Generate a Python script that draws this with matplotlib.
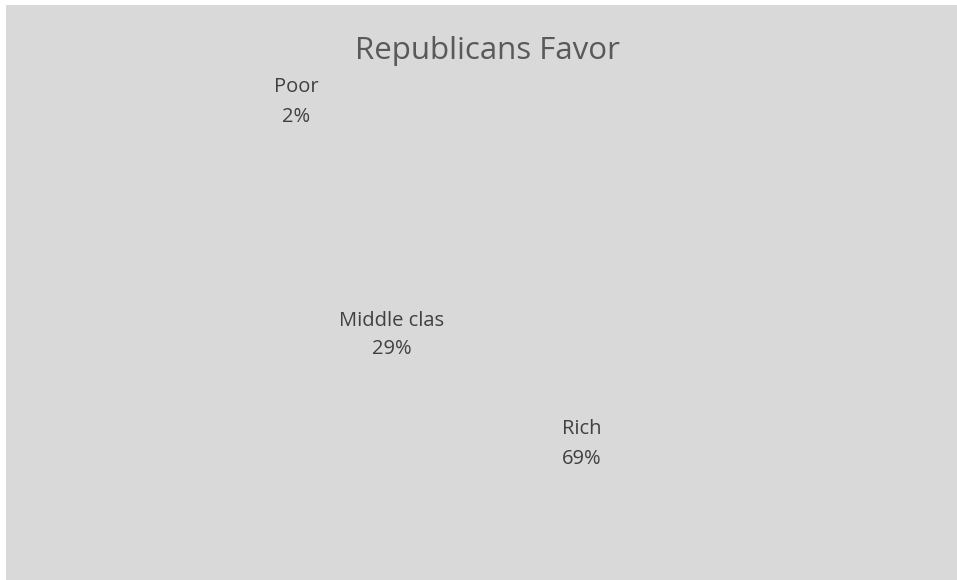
import matplotlib
matplotlib.use("Agg")
import matplotlib.pyplot as plt
from matplotlib.patches import Rectangle

plt.rcParams['font.family'] = ['Open Sans', 'DejaVu Sans']

# share of each income group
groups = ["Poor", "Middle clas", "Rich"]
shares = [2, 29, 69]

# where each data label sits (figure fraction, centre of the two-line block)
label_pos = [(296 / 957, 1 - 102 / 580),
             (392 / 957, 1 - 335 / 580),
             (582 / 957, 1 - 444 / 580)]

fig = plt.figure(figsize=(9.57, 5.8), dpi=100)
fig.patch.set_facecolor("white")
fig.patches.append(Rectangle((6 / 957, 0), 1, 1 - 5 / 580, transform=fig.transFigure,
                             facecolor="#d9d9d9", edgecolor="none", zorder=-1))

ax = fig.add_axes([0.25, 0.05, 0.5, 0.78])
# slices have no fill, only the labels show
ax.pie(shares, startangle=90, counterclock=False,
       wedgeprops=dict(fill=False, linewidth=0))
ax.set_aspect("equal")

fig.text(487 / 957, 1 - 51 / 580, "Republicans Favor", ha="center", va="center",
         fontsize=22.5, color="#595959")

for name, val, (x, y) in zip(groups, shares, label_pos):
    fig.text(x, y, f"{name}\n{val}%", ha="center", va="center",
             fontsize=14.5, color="#404040", linespacing=1.6)

fig.savefig("out.png", dpi=100)
